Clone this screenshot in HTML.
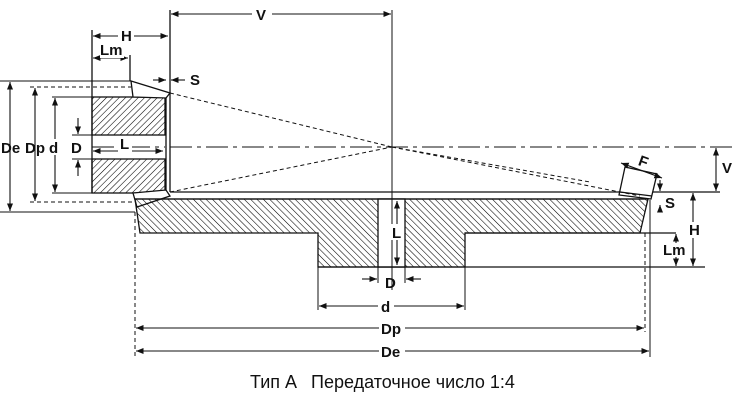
<!DOCTYPE html>
<html><head><meta charset="utf-8"><style>
html,body{margin:0;padding:0;background:#fff;width:732px;height:400px;overflow:hidden}
svg{display:block}
text{font-family:"Liberation Sans",sans-serif;font-weight:bold;font-size:15px;fill:#111}
</style></head><body>
<svg width="732" height="400" viewBox="0 0 732 400" xmlns="http://www.w3.org/2000/svg">
<defs>
<pattern id="h1" patternUnits="userSpaceOnUse" width="4.5" height="5" patternTransform="rotate(45)"><line x1="0" y1="0" x2="0" y2="5" stroke="#000" stroke-width="1.1"/></pattern>
<pattern id="h2" patternUnits="userSpaceOnUse" width="4.5" height="5" patternTransform="rotate(-45)"><line x1="0" y1="0" x2="0" y2="5" stroke="#000" stroke-width="1.1"/></pattern>
<marker id="a" viewBox="0 0 10 10" refX="10" refY="5" markerWidth="7" markerHeight="7" orient="auto-start-reverse"><path d="M0,1 L10,5 L0,9 z" fill="#111"/></marker>
</defs>
<g stroke="#111" fill="none" stroke-width="1.3">
<rect x="92" y="97" width="73" height="38" fill="url(#h1)"/>
<rect x="92" y="159" width="73" height="34" fill="url(#h1)"/>
<line x1="92" y1="30" x2="92" y2="193"/>
<line x1="166" y1="97" x2="166" y2="195"/>
<line x1="170" y1="10" x2="170" y2="192"/>
<polygon points="131,81 170,93 166,98 133,97" fill="#fff"/>
<polygon points="133,193 166,190 170,196 137,207" fill="#fff"/>
<line x1="130" y1="55" x2="130" y2="81"/>
<polygon points="135,199 648,199 640,233 465,233 465,267 318,267 318,233 140,233" fill="url(#h2)"/>
<rect x="378" y="199" width="27" height="68" fill="#fff"/>
<line x1="170" y1="192" x2="720" y2="192"/>
<line x1="135" y1="199" x2="648" y2="199"/>
<line x1="465" y1="233" x2="676" y2="233"/>
<line x1="318" y1="267" x2="705" y2="267"/>
<polygon points="619,195 625,167 657,174 651,199" fill="#fff"/>
<line x1="620" y1="192" x2="652" y2="196"/>
<line x1="0" y1="81" x2="131" y2="81" stroke-width="1"/>
<line x1="52" y1="97" x2="92" y2="97" stroke-width="1"/>
<line x1="52" y1="193" x2="133" y2="193" stroke-width="1"/>
<line x1="0" y1="212" x2="135" y2="212" stroke-width="1"/>
<line x1="72" y1="135" x2="92" y2="135" stroke-width="1"/>
<line x1="72" y1="159" x2="92" y2="159" stroke-width="1"/>
<line x1="30" y1="87" x2="131" y2="87" stroke-width="1" stroke-dasharray="4,3"/>
<line x1="30" y1="202" x2="135" y2="202" stroke-width="1" stroke-dasharray="4,3"/>
<line x1="392" y1="10" x2="392" y2="290" stroke-width="1"/>
<line x1="170" y1="147" x2="732" y2="147" stroke-width="1" stroke-dasharray="22,5,4,5"/>
<line x1="92" y1="147" x2="165" y2="147" stroke-width="1" stroke-dasharray="22,5,4,5"/>
<line x1="170" y1="93" x2="392" y2="147" stroke-width="1" stroke-dasharray="4,3"/>
<line x1="392" y1="147" x2="640" y2="196" stroke-width="1" stroke-dasharray="4,3"/>
<line x1="170" y1="192" x2="392" y2="147" stroke-width="1" stroke-dasharray="4,3"/>
<line x1="392" y1="147" x2="590" y2="182" stroke-width="1" stroke-dasharray="4,3"/>
<line x1="135" y1="212" x2="135" y2="357" stroke-width="1" stroke-dasharray="4,3"/>
<line x1="645" y1="233" x2="645" y2="332" stroke-width="1" stroke-dasharray="4,3"/>
<line x1="650" y1="200" x2="650" y2="357" stroke-width="1"/>
<line x1="318" y1="267" x2="318" y2="310" stroke-width="1"/>
<line x1="465" y1="267" x2="465" y2="310" stroke-width="1"/>
<line x1="378" y1="267" x2="378" y2="283" stroke-width="1"/>
<line x1="405" y1="267" x2="405" y2="283" stroke-width="1"/>
<g stroke-width="1.1" marker-end="url(#a)" marker-start="url(#a)">
<line x1="10" y1="82" x2="10" y2="211"/>
<line x1="35" y1="88" x2="35" y2="201"/>
<line x1="55" y1="98" x2="55" y2="192"/>
<line x1="93" y1="151" x2="163" y2="151"/>
<line x1="93" y1="36" x2="168" y2="36"/>
<line x1="93" y1="58" x2="128" y2="58"/>
<line x1="171" y1="14" x2="391" y2="14"/>
<line x1="319" y1="306" x2="464" y2="306"/>
<line x1="136" y1="328" x2="644" y2="328"/>
<line x1="136" y1="351" x2="649" y2="351"/>
<line x1="397" y1="201" x2="397" y2="265"/>
<line x1="716" y1="148" x2="716" y2="191"/>
<line x1="693" y1="193" x2="693" y2="266"/>
<line x1="621" y1="163" x2="662" y2="178"/>
</g>
<g stroke-width="1.1" marker-end="url(#a)">
<line x1="78" y1="118" x2="78" y2="134"/>
<line x1="78" y1="176" x2="78" y2="160"/>
<line x1="153" y1="80" x2="166" y2="80"/>
<line x1="185" y1="80" x2="171" y2="80"/>
<line x1="362" y1="279" x2="377" y2="279"/>
<line x1="421" y1="279" x2="406" y2="279"/>
<line x1="676" y1="250" x2="676" y2="234"/>
<line x1="676" y1="250" x2="676" y2="266"/>
<line x1="660" y1="212" x2="660" y2="205"/>
<line x1="660" y1="180" x2="660" y2="191"/>
</g>
</g>
<rect x="252" y="6" width="20" height="16" fill="#fff"/>
<text x="256" y="20">V</text>
<rect x="118" y="28" width="16" height="16" fill="#fff"/>
<text x="121" y="41">H</text>
<rect x="100" y="42" width="24" height="16" fill="#fff"/>
<text x="100" y="55">Lm</text>
<text x="190" y="85">S</text>
<text x="1" y="153">De</text>
<text x="25" y="153">Dp</text>
<rect x="47" y="139" width="14" height="16" fill="#fff"/>
<text x="49" y="153">d</text>
<text x="71" y="153">D</text>
<rect x="118" y="140" width="14" height="12" fill="#fff"/>
<text x="120" y="149">L</text>
<rect x="391" y="224" width="13" height="16" fill="#fff"/>
<text x="392" y="238">L</text>
<text x="385" y="288">D</text>
<rect x="378" y="298" width="16" height="16" fill="#fff"/>
<text x="381" y="312">d</text>
<rect x="379" y="320" width="26" height="16" fill="#fff"/>
<text x="381" y="334">Dp</text>
<rect x="379" y="343" width="26" height="16" fill="#fff"/>
<text x="381" y="357">De</text>
<text x="722" y="173">V</text>
<rect x="688" y="222" width="14" height="16" fill="#fff"/>
<text x="689" y="235">H</text>
<rect x="663" y="243" width="26" height="14" fill="#fff"/>
<text x="663" y="255">Lm</text>
<text x="665" y="208">S</text>
<g transform="rotate(20 644 164)"><rect x="637" y="154" width="14" height="15" fill="#fff"/><text x="638" y="167">F</text></g>
<text x="250" y="388" xml:space="preserve" style="font-weight:normal;font-size:18px">Тип A   Передаточное число 1:4</text>
</svg>
</body></html>
